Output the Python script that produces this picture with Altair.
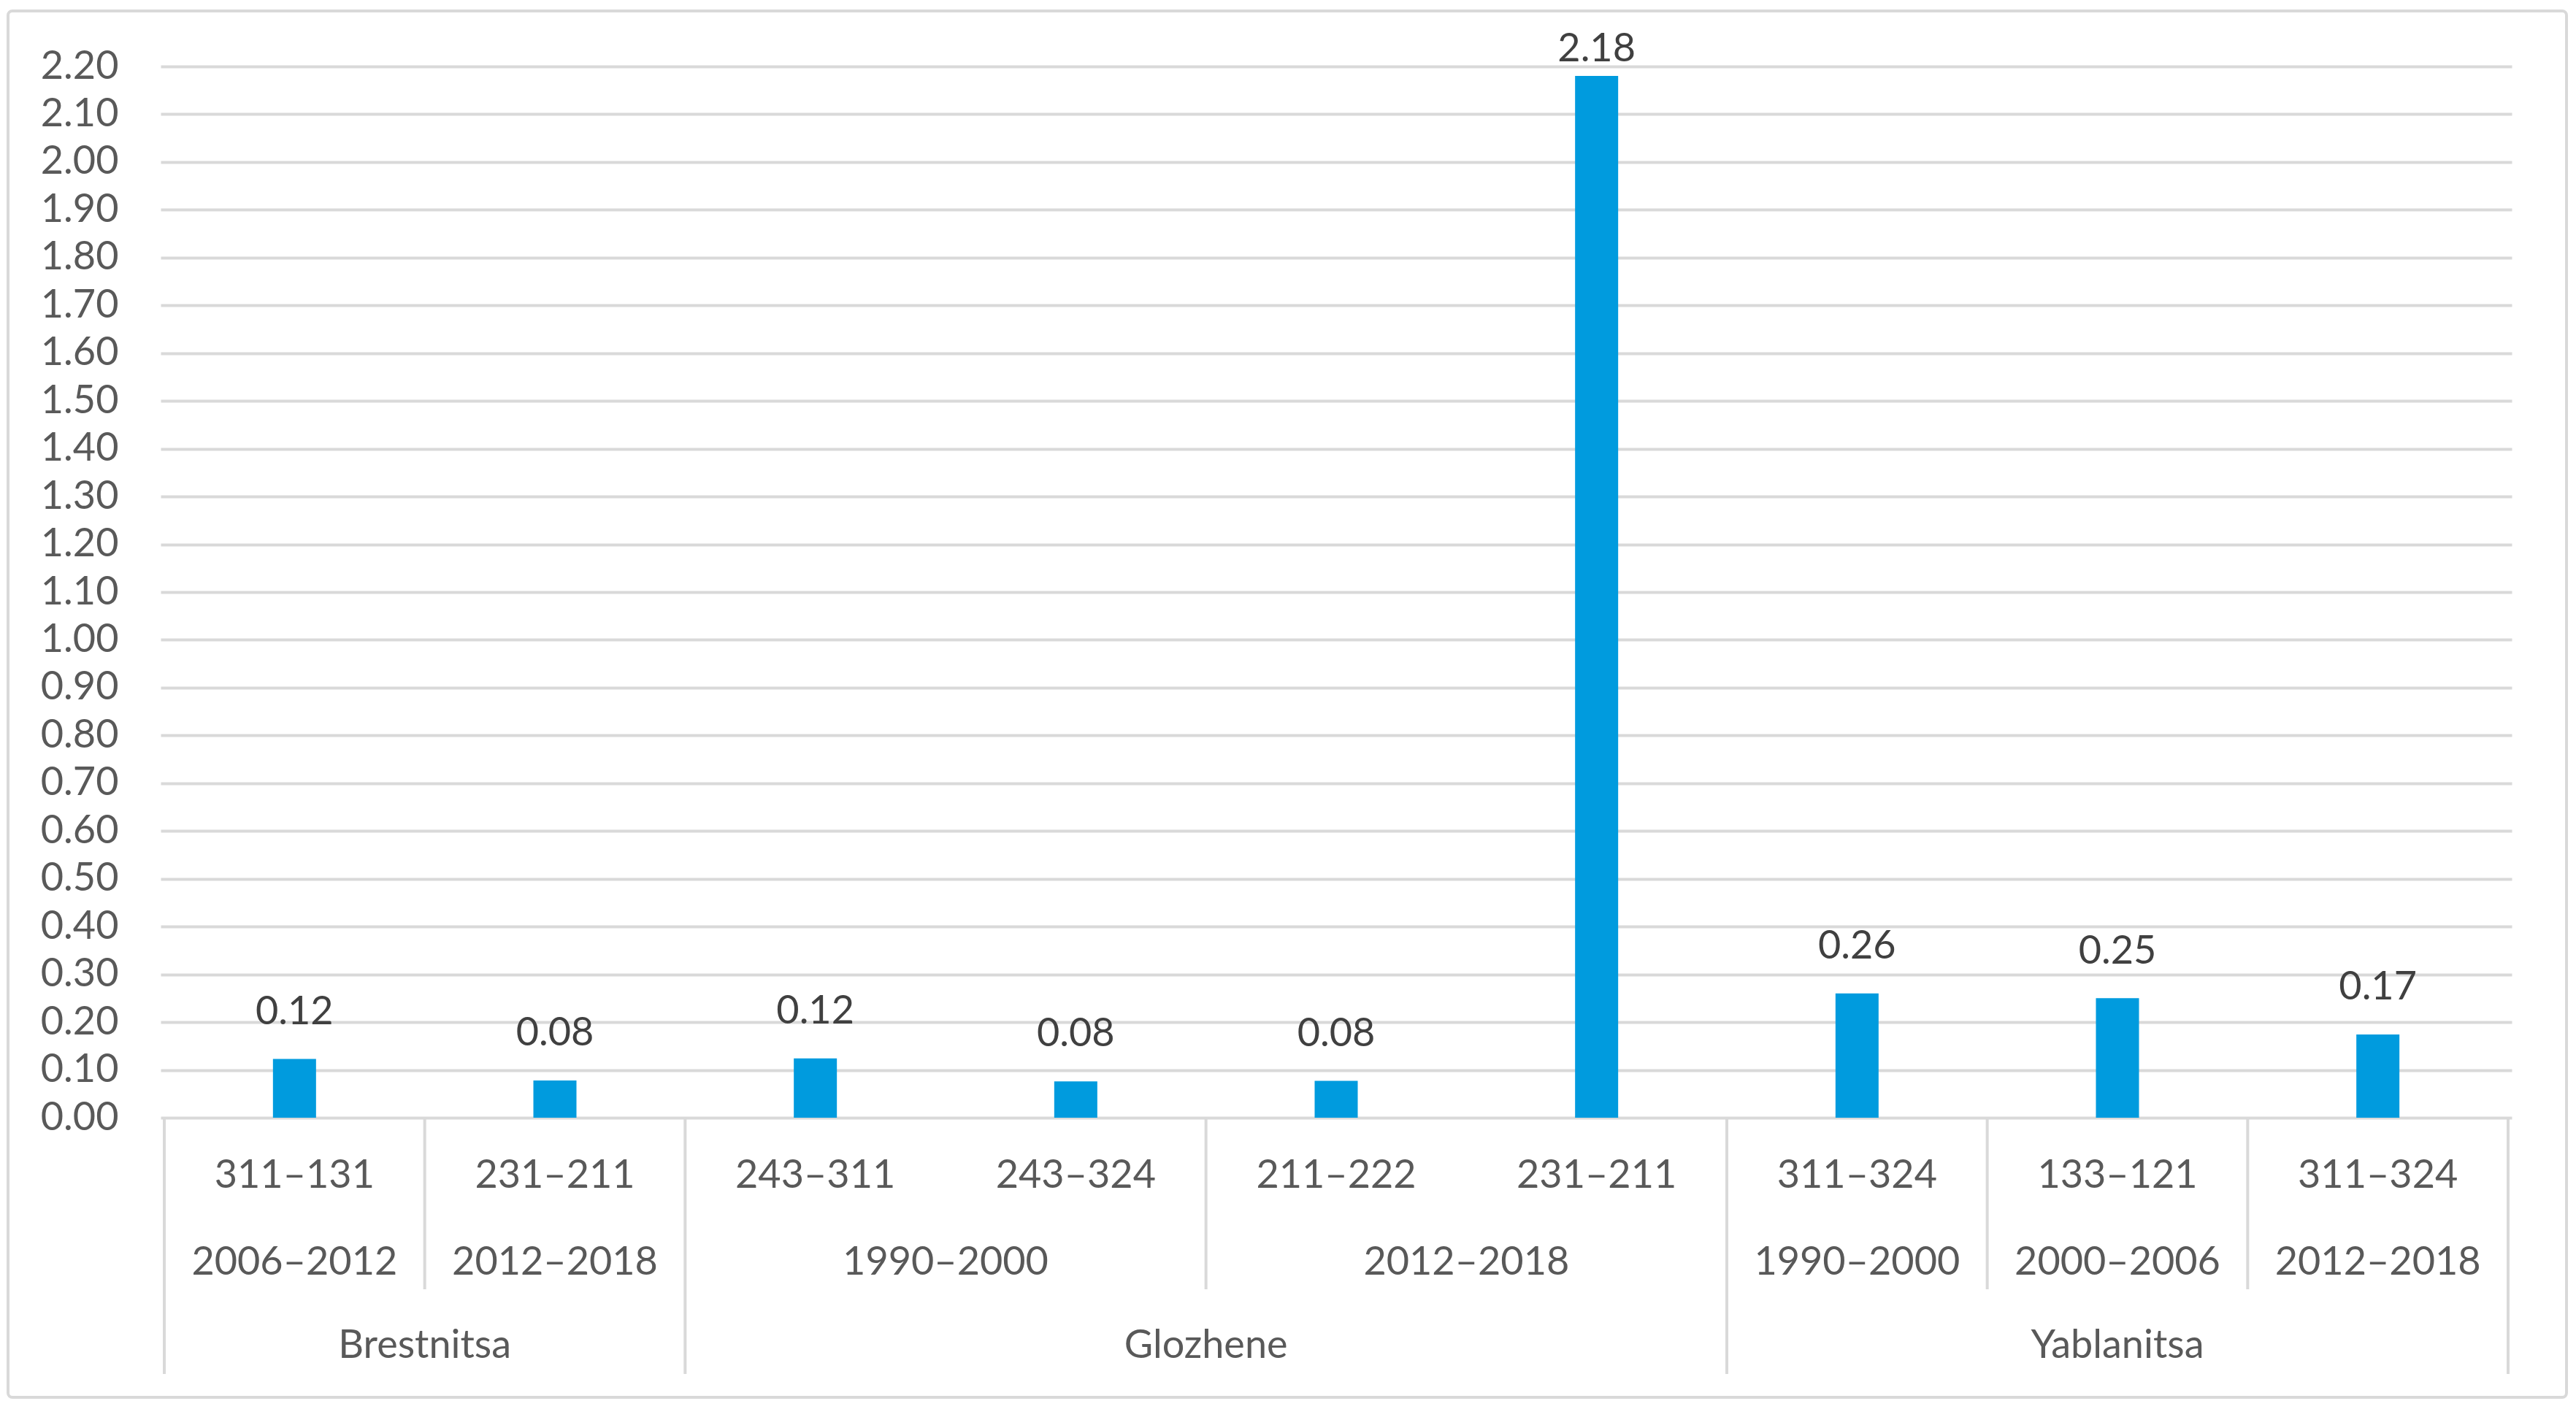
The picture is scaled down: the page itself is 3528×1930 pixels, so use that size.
import altair as alt
import pandas as pd

# ---- data ----
villages = ["Brestnitsa", "Brestnitsa", "Glozhene", "Glozhene", "Glozhene",
            "Glozhene", "Yablanitsa", "Yablanitsa", "Yablanitsa"]
periods = ["2006–2012", "2012–2018", "1990–2000", "1990–2000", "2012–2018",
           "2012–2018", "1990–2000", "2000–2006", "2012–2018"]
codes = ["311–131", "231–211", "243–311", "243–324", "211–222",
         "231–211", "311–324", "133–121", "311–324"]
values = [0.123, 0.078, 0.124, 0.076, 0.077, 2.18, 0.26, 0.25, 0.174]
y_ticks = [round(i * 0.1, 1) for i in range(23)]

FONT = "Lato"
FS = 54
AXIS_COL = "#595959"
LABEL_COL = "#404040"
GRID_COL = "#d9d9d9"
BAR_COL = "#009bde"

W, H = 3220, 1440
n = len(codes)

df = pd.DataFrame({
    "x": [i + 0.5 for i in range(n)],
    "v": values,
    "code": codes,
    "period": periods,
    "village": villages,
})

# group spans for the hierarchical category axis
def spans(keys):
    out = []
    start = 0
    for i in range(1, n + 1):
        if i == n or keys[i] != keys[start]:
            out.append((start, i, keys[start]))
            start = i
    return out

period_keys = list(zip(villages, periods))
p_spans = spans(period_keys)
v_spans = spans(villages)

df_period = pd.DataFrame({"x": [(a + b) / 2 for a, b, _ in p_spans],
                          "t": [k[1] for _, _, k in p_spans]})
df_village = pd.DataFrame({"x": [(a + b) / 2 for a, b, _ in v_spans],
                           "t": [k for _, _, k in v_spans]})

long_b = sorted({0} | {b for _, b, _ in v_spans})
short_b = sorted({b for _, b, _ in p_spans} - set(long_b))
df_long = pd.DataFrame({"x": long_b})
df_short = pd.DataFrame({"x": short_b})

xs = alt.Scale(domain=[0, n], nice=False, zero=False)
ys = alt.Scale(domain=[0, 2.2], nice=False)
X = alt.X("x:Q", scale=xs, axis=None)

frame = alt.Chart(pd.DataFrame({"a": [0]})).mark_rect(
    filled=False, stroke=GRID_COL, strokeWidth=4, cornerRadius=6
).encode(x=alt.value(-209), x2=alt.value(3295), y=alt.value(-76), y2=alt.value(1823))

bars = alt.Chart(df).mark_bar(size=59, color=BAR_COL).encode(
    x=X,
    y=alt.Y("v:Q", scale=ys, title=None,
            axis=alt.Axis(values=y_ticks, format=".2f", grid=True,
                          gridColor=GRID_COL, gridWidth=4, domain=False,
                          ticks=False, labelPadding=58, labelFont=FONT,
                          labelFontSize=FS, labelColor=AXIS_COL)),
)

labels = alt.Chart(df).transform_calculate(
    ly="min(datum.v + 0.073, 2.21)",
    lt="format(datum.v, '.2f')",
).mark_text(font=FONT, fontSize=FS, color=LABEL_COL, baseline="alphabetic",
            align="center").encode(
    x=X, y=alt.Y("ly:Q", scale=ys), text="lt:N")

code_txt = alt.Chart(df).mark_text(font=FONT, fontSize=FS, color=AXIS_COL,
                                   baseline="alphabetic", align="center").encode(
    x=X, y=alt.value(1536), text="code:N")

period_txt = alt.Chart(df_period).mark_text(font=FONT, fontSize=FS, color=AXIS_COL,
                                            baseline="alphabetic", align="center").encode(
    x=X, y=alt.value(1655), text="t:N")

village_txt = alt.Chart(df_village).mark_text(font=FONT, fontSize=FS, color=AXIS_COL,
                                              baseline="alphabetic", align="center").encode(
    x=X, y=alt.value(1769), text="t:N")

long_rules = alt.Chart(df_long).mark_rule(color=GRID_COL, strokeWidth=4).encode(
    x=X, y=alt.value(H), y2=alt.value(1791))
short_rules = alt.Chart(df_short).mark_rule(color=GRID_COL, strokeWidth=4).encode(
    x=X, y=alt.value(H), y2=alt.value(1675))

chart = alt.layer(
    frame, bars, labels, code_txt, period_txt, village_txt, long_rules, short_rules
).properties(
    width=W, height=H,
    autosize=alt.AutoSizeParams(type="none"),
    padding={"left": 212, "top": 83, "right": 80, "bottom": 388},
    background="white",
).configure_view(stroke=None)

chart.save("out.html", embed_options={"renderer": "svg", "actions": False})
